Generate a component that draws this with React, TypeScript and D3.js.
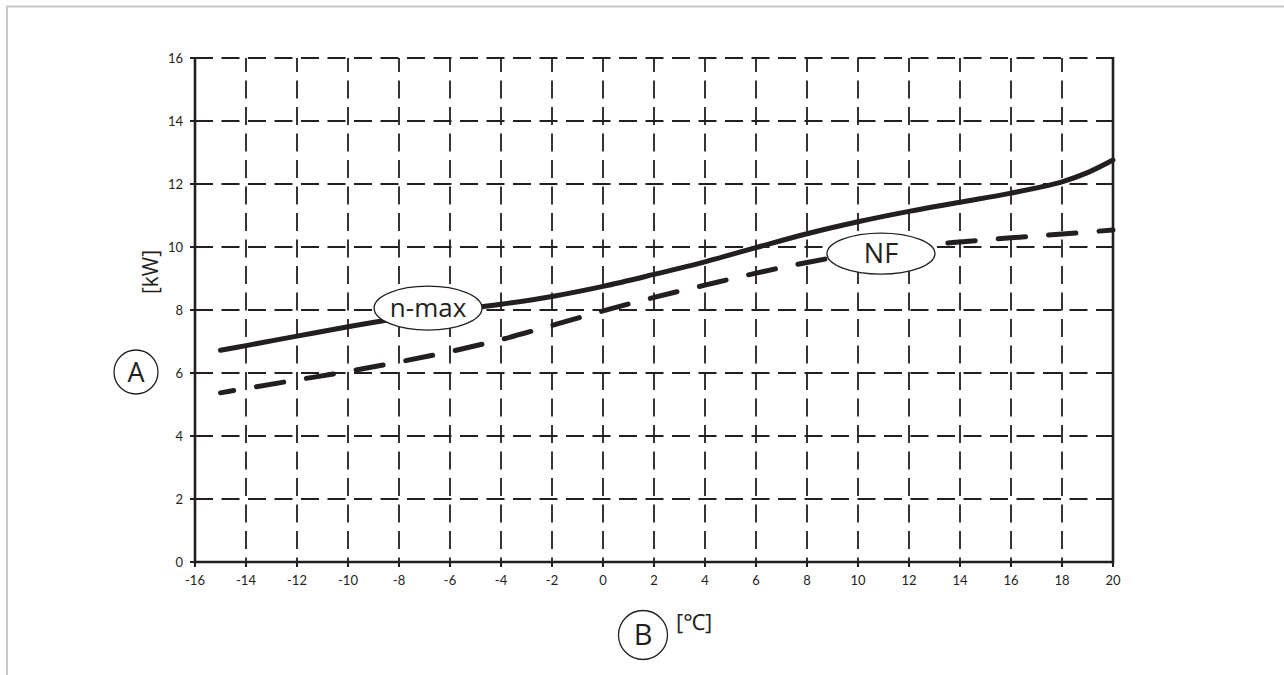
import React from "react";
import * as d3 from "d3";

const xTicks = [-16, -14, -12, -10, -8, -6, -4, -2, 0, 2, 4, 6, 8, 10, 12, 14, 16, 18, 20];
const yTicks = [0, 2, 4, 6, 8, 10, 12, 14, 16];

const nMaxTemps = [-15, -14, -12, -10, -8, -6, -4, -2, 0, 2, 4, 6, 8, 10, 12, 14, 16, 18, 19, 20];
const nMax = [6.72, 6.87, 7.17, 7.47, 7.74, 7.97, 8.18, 8.43, 8.75, 9.13, 9.53, 9.98, 10.42, 10.8, 11.13, 11.42, 11.71, 12.07, 12.36, 12.76];
const nfTemps = [-15, -14, -12, -10, -8, -6, -4, -2, 0, 2, 4, 6, 8, 10, 12, 14, 16, 18, 20];
const nf = [5.37, 5.51, 5.78, 6.05, 6.35, 6.68, 7.06, 7.51, 7.97, 8.4, 8.79, 9.17, 9.51, 9.79, 10.01, 10.16, 10.29, 10.41, 10.54];

const W = 1284;
const H = 675;
const INK = "#231f20";

export default function App() {
  const x = d3.scaleLinear().domain([-16, 20]).range([195, 1113]);
  const y = d3.scaleLinear().domain([0, 16]).range([562, 58]);

  const makeLine = (ts: number[]) =>
    d3
      .line<number>()
      .x((_, i) => x(ts[i]))
      .y((d) => y(d))
      .curve(d3.curveCatmullRom.alpha(0.5));

  const [x0, x1] = x.range();
  const [y0, y1] = y.range();

  const nMaxLabel = { t: -6.86, v: 8.06, rx: 54, ry: 22, text: "n-max", fs: 26 };
  const nfLabel = { t: 10.9, v: 9.79, rx: 54, ry: 20.5, text: "NF", fs: 27 };

  return (
    <div style={{ position: "absolute", left: 0, top: 0, width: W, height: H }}>
      <svg width={W} height={H} style={{ display: "block" }}>
        <rect x={0} y={0} width={W} height={H} fill="#fff" />
        {/* frame */}
        <line x1={6} y1={6.5} x2={W} y2={6.5} stroke="#c8c8cc" strokeWidth={2} />
        <line x1={7} y1={6} x2={7} y2={H} stroke="#c8c8cc" strokeWidth={2} />

        {/* vertical grid */}
        {xTicks.slice(1, -1).map((t) => (
          <line
            key={"vx" + t}
            x1={x(t)}
            x2={x(t)}
            y1={y1}
            y2={y0}
            stroke={INK}
            strokeWidth={1.8}
            strokeDasharray="18,8.5"
            strokeDashoffset={4}
          />
        ))}
        {/* horizontal grid */}
        {yTicks.slice(1).map((t) => (
          <line
            key={"hy" + t}
            x1={x0}
            x2={x1}
            y1={y(t)}
            y2={y(t)}
            stroke={INK}
            strokeWidth={1.9}
            strokeDasharray="18,8.5"
          />
        ))}
        {/* axes */}
        <line x1={x0} x2={x0} y1={y1 - 1} y2={y0 + 1.5} stroke={INK} strokeWidth={2.6} />
        <line x1={x1} x2={x1} y1={y1 - 1} y2={y0 + 1.5} stroke={INK} strokeWidth={2.6} />
        <line x1={x0 - 1} x2={x1 + 1} y1={y0} y2={y0} stroke={INK} strokeWidth={2.6} />

        {/* ticks */}
        {yTicks.map((t) => (
          <g key={"ty" + t}>
            <line x1={x0 - 5} x2={x0} y1={y(t)} y2={y(t)} stroke={INK} strokeWidth={2} />
            <text
              x={x0 - 12}
              y={y(t)}
              dy="0.35em"
              textAnchor="end"
              fontFamily="Lato, 'Open Sans', sans-serif"
              fontSize={13}
              fill={INK}
            >
              {t}
            </text>
          </g>
        ))}
        {xTicks.map((t) => (
          <g key={"tx" + t}>
            <line x1={x(t)} x2={x(t)} y1={y0} y2={y0 + 5} stroke={INK} strokeWidth={2} />
            <text
              x={x(t)}
              y={y0 + 18}
              dy="0.35em"
              textAnchor="middle"
              fontFamily="Lato, 'Open Sans', sans-serif"
              fontSize={13}
              fill={INK}
            >
              {t}
            </text>
          </g>
        ))}

        {/* curves */}
        <path
          d={makeLine(nMaxTemps)(nMax) || ""}
          fill="none"
          stroke={INK}
          strokeWidth={5}
          strokeLinecap="round"
        />
        <path
          d={makeLine(nfTemps)(nf) || ""}
          fill="none"
          stroke={INK}
          strokeWidth={5}
          strokeLinecap="round"
          strokeDasharray="27.5,23"
          strokeDashoffset={14}
        />

        {/* curve labels */}
        {[nMaxLabel, nfLabel].map((l) => (
          <g key={l.text}>
            <ellipse
              cx={x(l.t)}
              cy={y(l.v)}
              rx={l.rx}
              ry={l.ry}
              fill="#fff"
              stroke={INK}
              strokeWidth={1.3}
            />
            <text
              x={x(l.t)}
              y={y(l.v)}
              dy="0.36em"
              textAnchor="middle"
              fontFamily="'Open Sans', 'Noto Sans', sans-serif"
              fontSize={l.fs}
              fill={INK}
            >
              {l.text}
            </text>
          </g>
        ))}

        {/* axis name A */}
        <circle cx={136} cy={372} r={22} fill="#fff" stroke={INK} strokeWidth={1.3} />
        <text
          x={136}
          y={372}
          dy="0.36em"
          textAnchor="middle"
          fontFamily="'Open Sans', 'Noto Sans', sans-serif"
          fontSize={27}
          fill={INK}
        >
          A
        </text>
        <text
          transform="translate(158,272) rotate(-90)"
          textAnchor="middle"
          fontFamily="'Open Sans', 'Noto Sans', sans-serif"
          fontSize={21}
          fill={INK}
        >
          [kW]
        </text>

        {/* axis name B */}
        <circle cx={643} cy={635} r={24.5} fill="#fff" stroke={INK} strokeWidth={1.3} />
        <text
          x={643}
          y={635}
          dy="0.36em"
          textAnchor="middle"
          fontFamily="'Open Sans', 'Noto Sans', sans-serif"
          fontSize={29}
          fill={INK}
        >
          B
        </text>
        <text
          x={676}
          y={630}
          fontFamily="'Open Sans', 'Noto Sans', sans-serif"
          fontSize={22}
          fill={INK}
        >
          [℃]
        </text>
      </svg>
    </div>
  );
}
